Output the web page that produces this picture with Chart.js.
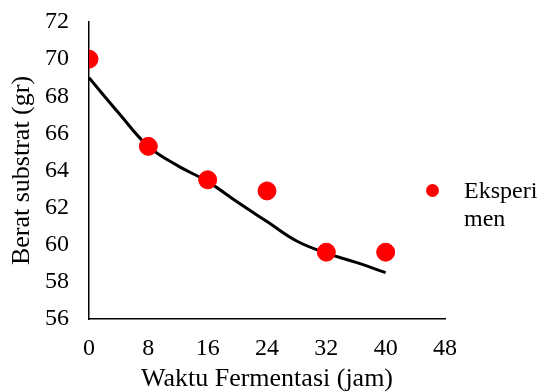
<!DOCTYPE html>
<html>
<head>
<meta charset="utf-8">
<script src="https://cdn.jsdelivr.net/npm/chart.js@4"></script>
<style>
  html, body { margin: 0; padding: 0; background: #fff; }
  #wrap { width: 539px; height: 392px; }
</style>
</head>
<body>
<div id="wrap"><canvas id="ChartSubstrat" width="539" height="392"></canvas></div>
<script>
// hasil eksperimen (jam, gram)
const waktu = [0, 8, 16, 24, 32, 40];
const beratEksperimen = [70, 65.3, 63.5, 62.9, 59.6, 59.6];

// kurva model
const waktuModel = [0, 4, 8, 12, 16, 20, 24, 28, 32, 36, 40];
const beratModel = [69.0, 67.1, 65.3, 64.25, 63.4, 62.3, 61.25, 60.2, 59.55, 59.05, 58.5];

const xTicks = [0, 8, 16, 24, 32, 40, 48];
const yTicks = [56, 58, 60, 62, 64, 66, 68, 70, 72];

const serif = "'Liberation Serif', 'Times New Roman', serif";
Chart.defaults.font.family = serif;
Chart.defaults.color = "#000";

// legenda dua baris di sisi kanan
const legendKanan = {
  id: "legendKanan",
  afterDraw(chart) {
    const ctx = chart.ctx;
    ctx.save();
    ctx.fillStyle = "#ff0000";
    ctx.beginPath();
    ctx.arc(432.5, 190.5, 6.5, 0, Math.PI * 2);
    ctx.fill();
    ctx.fillStyle = "#000";
    ctx.font = "24px " + serif;
    ctx.textBaseline = "alphabetic";
    ctx.fillText("Eksperi", 464, 198);
    ctx.fillText("men", 464, 225.5);
    ctx.restore();
  },
};

const dataEksperimen = waktu.map((x, i) => ({ x, y: beratEksperimen[i] }));
const dataModel = waktuModel.map((x, i) => ({ x, y: beratModel[i] }));

new Chart(document.getElementById("ChartSubstrat"), {
  type: "scatter",
  data: {
    datasets: [
      {
        type: "line",
        label: "Model",
        data: dataModel,
        borderColor: "#000",
        borderWidth: 3,
        pointRadius: 0,
        fill: false,
        tension: 0.4,
        order: 2,
      },
      {
        label: "Eksperimen",
        data: dataEksperimen,
        backgroundColor: "#ff0000",
        borderColor: "#ff0000",
        pointRadius: 9,
        order: 1,
      },
    ],
  },
  options: {
    responsive: false,
    animation: false,
    layout: { padding: { top: 22, right: 94, left: 0, bottom: 0 } },
    plugins: {
      legend: { display: false },
      tooltip: { enabled: false },
    },
    scales: {
      x: {
        type: "linear",
        min: 0,
        max: 48,
        afterBuildTicks: (s) => { s.ticks = xTicks.map((v) => ({ value: v })); },
        afterFit: (s) => { s.height = 73; },
        grid: { display: false, drawTicks: false },
        border: { display: true, color: "#000", width: 1.5 },
        ticks: { color: "#000", padding: 15, font: { family: serif, size: 24 } },
        title: {
          display: true,
          text: "Waktu Fermentasi (jam)",
          color: "#000",
          padding: 0,
          font: { family: serif, size: 26, lineHeight: 1 },
        },
      },
      y: {
        type: "linear",
        min: 56,
        max: 72,
        afterBuildTicks: (s) => { s.ticks = yTicks.map((v) => ({ value: v })); },
        afterFit: (s) => {
          s.width = 89;
          // label atas/bawah tidak perlu ruang tambahan
          s.paddingTop = 0;
          s.paddingBottom = 0;
        },
        grid: { display: false, drawTicks: false },
        border: { display: true, color: "#000", width: 1.5 },
        ticks: { color: "#000", padding: 20, font: { family: serif, size: 24 } },
        title: {
          display: true,
          text: "Berat substrat (gr)",
          color: "#000",
          padding: { top: 9, bottom: 0 },
          font: { family: serif, size: 26, lineHeight: 1 },
        },
      },
    },
  },
  plugins: [legendKanan],
});
</script>
</body>
</html>
